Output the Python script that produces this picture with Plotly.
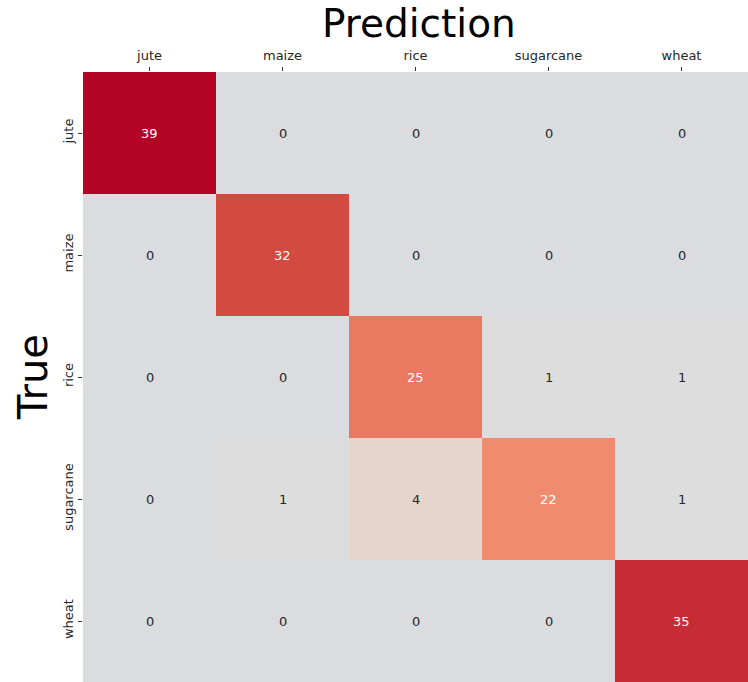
import plotly.graph_objects as go

# Confusion matrix: rows = true class, columns = predicted class
labels = ["jute", "maize", "rice", "sugarcane", "wheat"]
counts = [
    [39, 0, 0, 0, 0],
    [0, 32, 0, 0, 0],
    [0, 0, 25, 1, 1],
    [0, 1, 4, 22, 1],
    [0, 0, 0, 0, 35],
]

# upper (warm) half of the coolwarm map, centred on zero
warm_half = [
    [0.0, "#dadce0"],
    [0.03, "#dcdddb"],
    [0.2, "#f2cbb7"],
    [0.4, "#f7ac8e"],
    [0.6, "#ee8468"],
    [0.8, "#d65244"],
    [1.0, "#b40426"],
]

zmax = max(max(r) for r in counts)

fig = go.Figure(
    go.Heatmap(
        z=counts,
        x=labels,
        y=labels,
        colorscale=warm_half,
        zmin=0,
        zmax=zmax,
        showscale=False,
        hoverinfo="skip",
    )
)

# cell annotations: light text on dark cells, dark text elsewhere
annotations = []
for i, row_name in enumerate(labels):
    for j, col_name in enumerate(labels):
        v = counts[i][j]
        annotations.append(
            dict(
                x=col_name,
                y=row_name,
                text=str(v),
                showarrow=False,
                font=dict(family="DejaVu Sans", size=13,
                          color="#ffffff" if v > 0.45 * zmax else "#262626"),
            )
        )

# axis titles
annotations.append(dict(
    text="Prediction", xref="paper", yref="paper", x=0.5, y=1,
    xanchor="center", yanchor="bottom", xshift=3, yshift=25, showarrow=False,
    borderpad=0,
    font=dict(family="DejaVu Sans", size=39, color="#000000"),
))
annotations.append(dict(
    text="True", xref="paper", yref="paper", x=0, y=0.5,
    xanchor="center", yanchor="middle", xshift=-50, textangle=-90, showarrow=False,
    font=dict(family="DejaVu Sans", size=40, color="#000000"),
))

fig.update_layout(
    width=748,
    height=682,
    margin=dict(l=83, r=0, t=72, b=0),
    paper_bgcolor="white",
    plot_bgcolor="white",
    font=dict(family="DejaVu Sans", color="#000000"),
    annotations=annotations,
)

fig.update_xaxes(
    side="top",
    showgrid=False,
    zeroline=False,
    ticks="outside",
    ticklen=4,
    tickcolor="#333333",
    ticklabelstandoff=2,
    tickfont=dict(size=13, family="DejaVu Sans", color="#262626"),
)
fig.update_yaxes(
    autorange="reversed",
    showgrid=False,
    zeroline=False,
    ticks="outside",
    ticklen=4,
    tickcolor="#333333",
    tickangle=-90,
    tickfont=dict(size=13, family="DejaVu Sans", color="#262626"),
)

fig.write_html("out.html")
